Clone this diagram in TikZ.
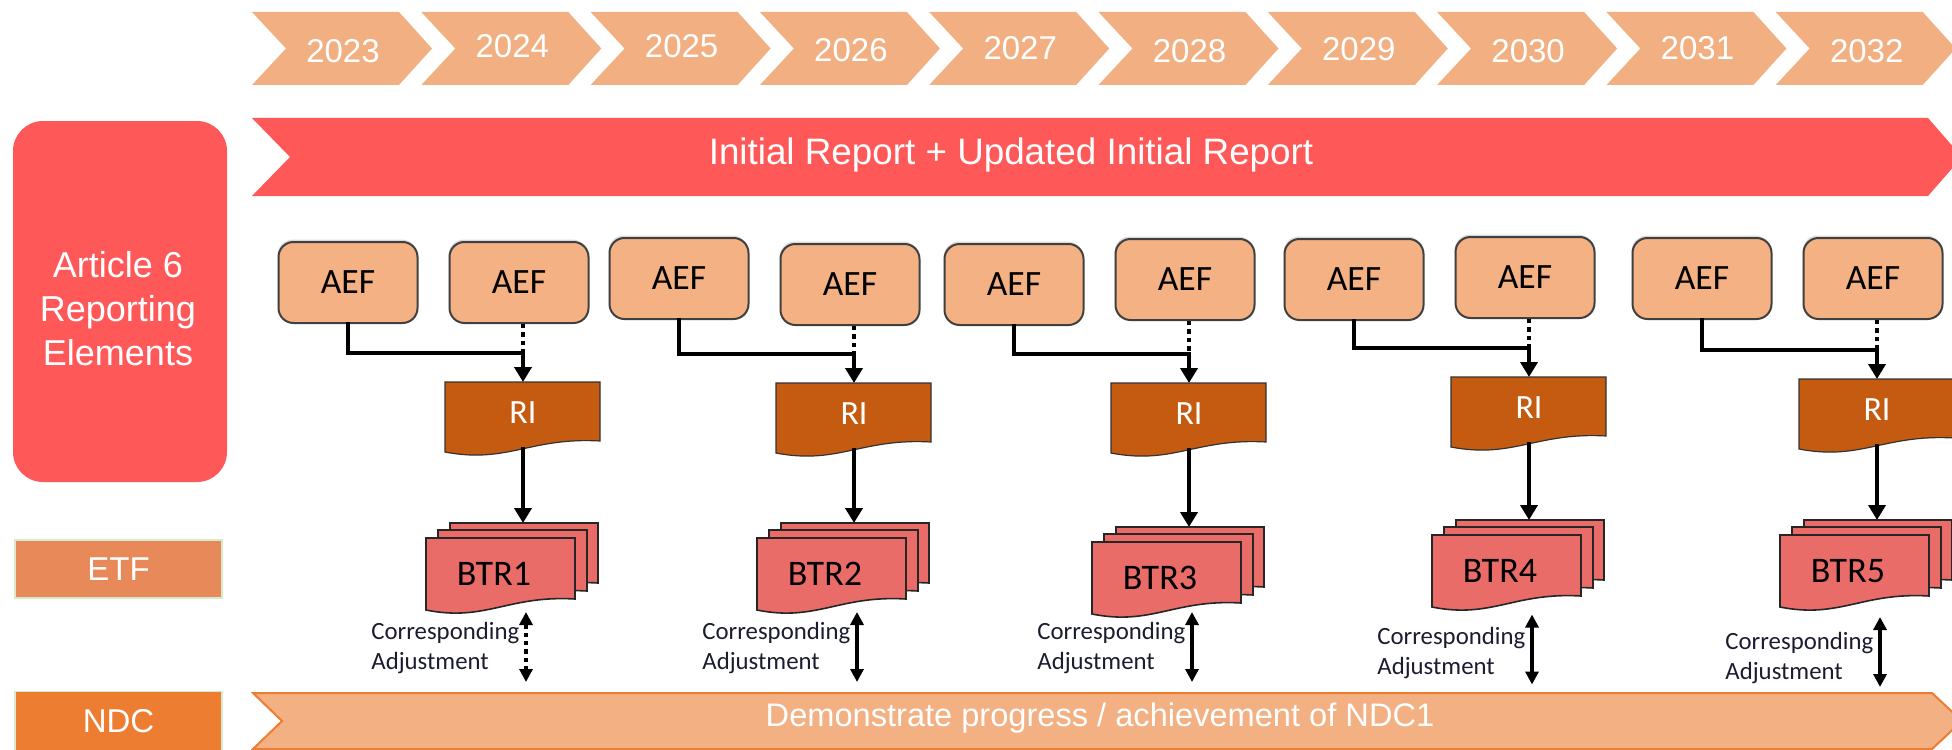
\documentclass[tikz,border=0pt]{standalone}
\usepackage{fontspec}
\setmainfont{Liberation Sans}
\newfontfamily\calfont{Carlito}
\usetikzlibrary{arrows.meta,shadows}
\definecolor{yearc}{RGB}{242,176,130}
\definecolor{redc}{RGB}{255,88,88}
\definecolor{aefc}{RGB}{244,177,131}
\definecolor{aefbd}{RGB}{64,64,64}
\definecolor{ric}{RGB}{197,90,17}
\definecolor{btrc}{RGB}{233,108,104}
\definecolor{etfc}{RGB}{232,137,90}
\definecolor{ndcc}{RGB}{237,125,49}
\definecolor{ndcban}{RGB}{243,176,131}
\definecolor{greenb}{RGB}{214,234,204}
\definecolor{catext}{RGB}{28,28,48}
% #1 style, #2 left, #3 right, #4 top, #5 bottom-left, #6 bottom-right
\newcommand\docshape[6]{%
  \filldraw[#1] ({#2},{#4}) -- ({#3},{#4}) -- ({#3},{#6})
   .. controls ({(#3)-0.45*((#3)-(#2))},{(#6)-4}) and ({(#2)+0.4*((#3)-(#2))},{(#5)+12}) .. ({#2},{#5}) -- cycle;}
\begin{document}
\begin{tikzpicture}[x=0.5pt,y=-0.5pt,
  hd/.style={text=white,inner sep=0pt},
  aef/.style={draw=aefbd,line width=1pt,fill=aefc,rounded corners=7.5pt,minimum width=69.5pt,minimum height=40.5pt,inner sep=0pt,font=\calfont\fontsize{17.8}{20}\selectfont,drop shadow={shadow xshift=-0.4pt,shadow yshift=1.2pt,opacity=0.3}},
  conn/.style={line width=1.8pt,line cap=rect},
  arr/.style={line width=2pt,-{Triangle[width=8.5pt,length=7.5pt]}},
  dots/.style={line width=2.2pt,dash pattern=on 2.2pt off 2pt},
  caarr/.style={line width=2pt,{Triangle[width=6.5pt,length=6.5pt]}-{Triangle[width=6.5pt,length=6.5pt]}},
  docri/.style={fill=ric,draw=black!80,line width=0.6pt},
  docbtr/.style={fill=btrc,draw=black!85,line width=0.8pt}]
\useasboundingbox (0,0) rectangle (1952,749);
\clip (0,0) rectangle (1952,749);

% year chevrons
\foreach \i/\yr/\dy in {0/2023/2,1/2024/-3,2/2025/-3,3/2026/1,4/2027/-1,5/2028/2,6/2029/0,7/2030/2,8/2031/-1,9/2032/2}{
  \pgfmathsetmacro\xo{252+169.3*\i}
  \fill[yearc] (\xo,12) -- ++(147,0) -- ++(33,36.5) -- ++(-33,36.5) -- ++(-147,0) -- ++(34,-36.5) -- cycle;
  \node[hd,font=\fontsize{16.5}{19}\selectfont] (y\i) at ({\xo+91},{49+\dy}) {\yr};
}

% initial report banner
\fill[redc] (252,118) -- (1928,118) -- (1962,157) -- (1928,196) -- (252,196) -- (290,157) -- cycle;
\node[hd,font=\fontsize{18.4}{22}\selectfont] (irep) at (1011,155) {Initial Report + Updated Initial Report};

% left labels
\node[fill=redc,rounded corners=15pt,minimum width=107pt,minimum height=180.5pt,inner sep=0pt] (art) at (120,301.5) {};
\node[hd,align=center,font=\fontsize{18}{22}\selectfont] (artx) at (118,309) {Article 6\\Reporting\\Elements};
\node[fill=etfc,draw=greenb,line width=0.8pt,minimum width=103.5pt,minimum height=29pt,inner sep=0pt,text=white,font=\fontsize{16.5}{18}\selectfont] (etf) at (118.5,569) {ETF};
\node[fill=ndcc,draw=greenb,line width=0.8pt,minimum width=103.5pt,minimum height=29.5pt,inner sep=0pt,text=white,font=\fontsize{16.5}{18}\selectfont] (ndc) at (118.5,721) {NDC};

% NDC banner
\filldraw[fill=ndcban,draw=ndcc,line width=1pt] (253,693) -- (1932,693) -- (1962,721) -- (1932,749) -- (253,749) -- (282,721) -- cycle;
\node[hd,font=\fontsize{16.3}{20}\selectfont] (ndcx) at (1100,718) {Demonstrate progress / achievement of NDC1};

% reporting groups
\foreach \g/\X/\da/\db/\dr/\dbt/\dc in {1/523/0/0/0/0/0,2/854/-4/2/1/0/0,3/1189/2/-3/1/4/0,4/1529/-3/-5/-5/-3/5,5/1877/-4/-4/-3/-3/10}{
  \node[aef] (aa\g) at ({\X-175},{282.5+\da}) {AEF};
  \node[aef] (ab\g) at ({\X-4},{282.5+\db}) {AEF};
  \coordinate (e\g) at (\X,{353+\dr});
  \coordinate (rt\g) at (\X,{382+\dr});
  \coordinate (rb\g) at (\X,{447+\dr});
  \coordinate (bt\g) at (\X,{523+\dbt});
  \draw[conn] (aa\g.south) |- (e\g);
  \draw[dots] (ab\g.south -| e\g) -- (e\g);
  \draw[arr] (e\g) -- (rt\g);
  \docshape{docri}{\X-78}{\X+77}{382+\dr}{452+\dr}{441+\dr}
  \node[hd,font=\calfont\fontsize{17}{20}\selectfont] (ri\g) at (\X,{413+\dr}) {RI};
  \draw[arr] (rb\g) -- (bt\g);
  \docshape{docbtr}{\X-73}{\X+75}{523+\dbt}{595+\dbt}{583+\dbt}
  \docshape{docbtr}{\X-85}{\X+64}{530+\dbt}{602+\dbt}{591+\dbt}
  \docshape{docbtr}{\X-97}{\X+52}{538+\dbt}{610+\dbt}{599+\dbt}
  \node[inner sep=0pt,font=\calfont\fontsize{18}{20}\selectfont] (btr\g) at ({\X-29},{574+\dbt}) {BTR\g};
  \node[align=left,anchor=west,inner sep=0pt,text=catext,font=\calfont\fontsize{12.4}{15}\selectfont] (ca\g) at ({\X-152},{648+\dc}) {Corresponding\\Adjustment};
  \coordinate (cu\g) at ({\X+3},{612+\dc*0.5});
  \coordinate (cd\g) at ({\X+3},{682+\dc*0.5});
  \ifnum\g=1
    \draw[caarr,dots] (cu\g) -- (cd\g);
  \else
    \draw[caarr] (cu\g) -- (cd\g);
  \fi
}
\end{tikzpicture}
\end{document}
